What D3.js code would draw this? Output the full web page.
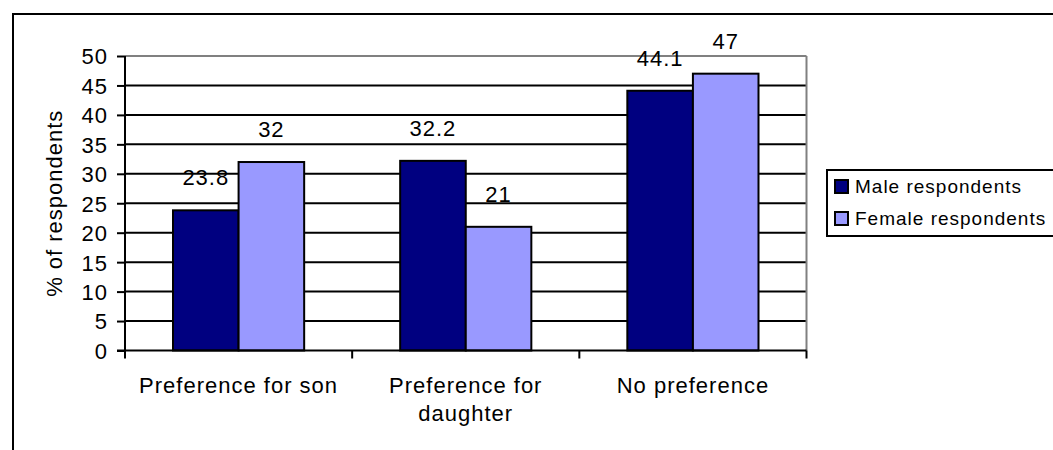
<!DOCTYPE html>
<html>
<head>
<meta charset="utf-8">
<script src="https://cdn.jsdelivr.net/npm/d3@7"></script>
<style>
  body { margin: 0; background: #fff; }
  text { font-family: "Liberation Sans", Arial, sans-serif; fill: #000; letter-spacing: 1px; }
</style>
</head>
<body>
<div id="chart"></div>
<script>
// data
var categories = ["Preference for son", "Preference for daughter", "No preference"];
var series = ["Male respondents", "Female respondents"];
var maleValues = [23.8, 32.2, 44.1];
var femaleValues = [32, 21, 47];
var yTicks = [0, 5, 10, 15, 20, 25, 30, 35, 40, 45, 50];

var colors = ["#000080", "#9999ff"];
var w = 1053, h = 450;

// plot area in page pixels
var plotLeft = 125, plotRight = 806.5, plotTop = 56, plotBottom = 350.5;

var svg = d3.select("#chart").append("svg")
  .attr("width", w)
  .attr("height", h);

// outer chart frame (right and bottom run off the page)
svg.append("rect")
  .attr("x", 13).attr("y", 14)
  .attr("width", w + 20).attr("height", h + 20)
  .attr("fill", "none")
  .attr("stroke", "#000")
  .attr("stroke-width", 2);

var x0 = d3.scaleBand().domain(categories).range([plotLeft, plotRight]);
var barPad = 48;
var x1 = d3.scaleBand().domain(series).range([barPad, x0.bandwidth() - barPad]);
var y = d3.scaleLinear().domain([0, 50]).range([plotBottom, plotTop]);

// gridlines
svg.append("g").selectAll("line")
  .data(yTicks.filter(function(t) { return t > 0; }))
  .enter().append("line")
  .attr("x1", plotLeft).attr("x2", plotRight)
  .attr("y1", function(d) { return y(d); })
  .attr("y2", function(d) { return y(d); })
  .attr("stroke", function(d) { return d == 50 ? "#808080" : "#000"; })
  .attr("stroke-width", 2);

// right border of plot area
svg.append("line")
  .attr("x1", plotRight).attr("x2", plotRight)
  .attr("y1", plotTop).attr("y2", plotBottom)
  .attr("stroke", "#808080")
  .attr("stroke-width", 2);

// bars
var rows = categories.map(function(c, i) {
  return { cat: c, vals: [maleValues[i], femaleValues[i]] };
});

var groups = svg.append("g").selectAll("g")
  .data(rows)
  .enter().append("g")
  .attr("transform", function(d) { return "translate(" + x0(d.cat) + ",0)"; });

groups.selectAll("rect")
  .data(function(d) { return d.vals.map(function(v, j) { return { s: series[j], v: v, j: j }; }); })
  .enter().append("rect")
  .attr("x", function(d) { return x1(d.s); })
  .attr("y", function(d) { return y(d.v); })
  .attr("width", x1.bandwidth())
  .attr("height", function(d) { return plotBottom - y(d.v); })
  .attr("fill", function(d) { return colors[d.j]; })
  .attr("stroke", "#000")
  .attr("stroke-width", 2);

// value labels
groups.selectAll("text.val")
  .data(function(d) { return d.vals.map(function(v, j) { return { s: series[j], v: v }; }); })
  .enter().append("text")
  .attr("class", "val")
  .attr("x", function(d) { return x1(d.s) + x1.bandwidth() / 2; })
  .attr("y", function(d) { return y(d.v) - 25; })
  .attr("text-anchor", "middle")
  .style("font-size", "22px")
  .text(function(d) { return d.v; });

// y axis
var yAxis = svg.append("g")
  .attr("transform", "translate(" + plotLeft + ",0)")
  .call(d3.axisLeft(y).tickValues(yTicks).tickSize(8).tickPadding(9));
yAxis.select(".domain").attr("stroke", "#000").attr("stroke-width", 2)
  .attr("d", "M0," + plotTop + "V" + plotBottom);
yAxis.selectAll(".tick line").attr("stroke", "#000").attr("stroke-width", 2);
yAxis.selectAll(".tick text")
  .style("font-size", "22px")
  .style("font-family", "Liberation Sans, Arial, sans-serif")
  .style("letter-spacing", "1px")
  .attr("fill", "#000")
  .attr("dy", "0.36em");

// x axis line and ticks between categories
svg.append("line")
  .attr("x1", plotLeft - 8).attr("x2", plotRight)
  .attr("y1", plotBottom).attr("y2", plotBottom)
  .attr("stroke", "#000").attr("stroke-width", 2);

var bounds = categories.map(function(c) { return x0(c); }).concat([plotRight]);
svg.append("g").selectAll("line")
  .data(bounds)
  .enter().append("line")
  .attr("x1", function(d) { return d; }).attr("x2", function(d) { return d; })
  .attr("y1", plotBottom).attr("y2", plotBottom + 8)
  .attr("stroke", "#000").attr("stroke-width", 2);

// category labels, wrapped like the original
var catLines = {
  "Preference for son": ["Preference for son"],
  "Preference for daughter": ["Preference for", "daughter"],
  "No preference": ["No preference"]
};
var catText = svg.append("g").selectAll("text")
  .data(categories)
  .enter().append("text")
  .attr("x", function(d) { return x0(d) + x0.bandwidth() / 2; })
  .attr("y", 393)
  .attr("text-anchor", "middle")
  .style("font-size", "22px");
catText.each(function(d) {
  var t = d3.select(this);
  catLines[d].forEach(function(line, i) {
    t.append("tspan")
      .attr("x", t.attr("x"))
      .attr("dy", i == 0 ? 0 : 28)
      .text(line);
  });
});

// y axis title
svg.append("text")
  .attr("transform", "translate(62," + ((plotTop + plotBottom) / 2) + ") rotate(-90)")
  .attr("text-anchor", "middle")
  .style("font-size", "22px")
  .text("% of respondents");

// legend
var legend = svg.append("g").attr("transform", "translate(827,170)");
legend.append("rect")
  .attr("width", 240).attr("height", 66)
  .attr("fill", "#fff")
  .attr("stroke", "#000").attr("stroke-width", 2);

var items = legend.selectAll("g")
  .data(series)
  .enter().append("g")
  .attr("transform", function(d, i) { return "translate(0," + (i * 32) + ")"; });

items.append("rect")
  .attr("x", 8).attr("y", 10)
  .attr("width", 13).attr("height", 13)
  .attr("fill", function(d, i) { return colors[i]; })
  .attr("stroke", "#000").attr("stroke-width", 2);

items.append("text")
  .attr("x", 28).attr("y", 23)
  .style("font-size", "19px")
  .text(function(d) { return d; });
</script>
</body>
</html>
